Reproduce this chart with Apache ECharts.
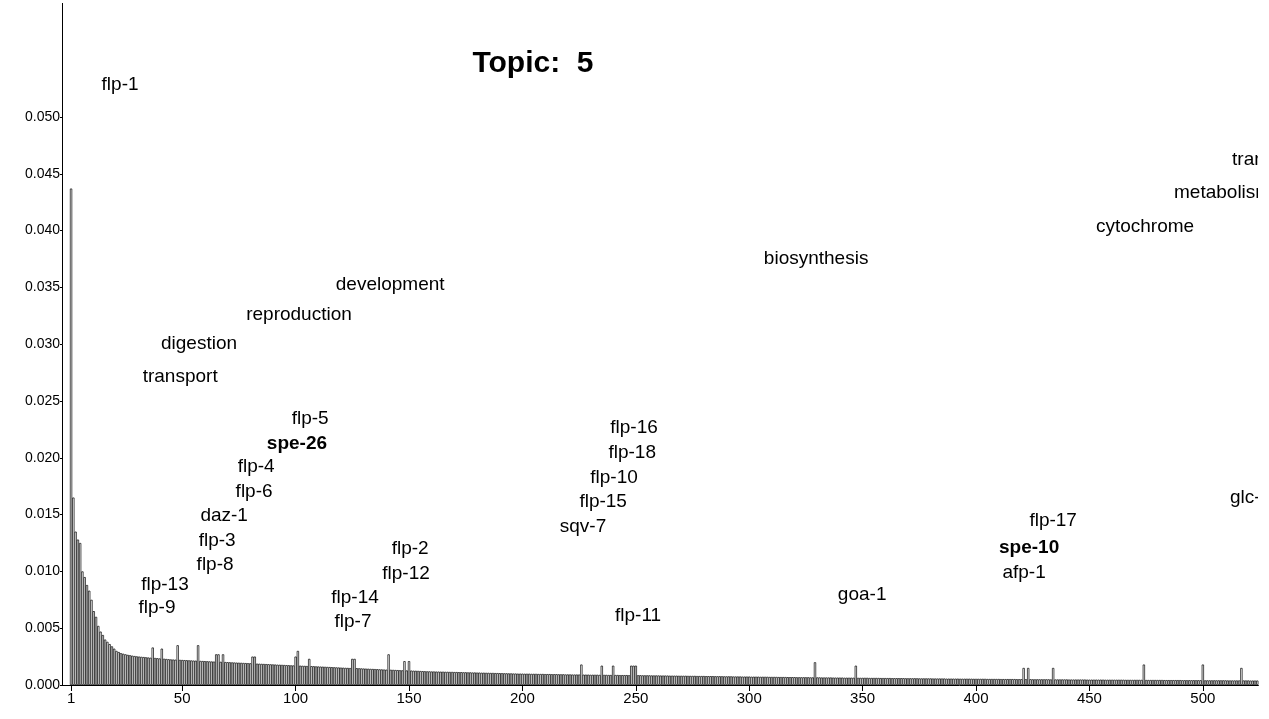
<!DOCTYPE html>
<html><head><meta charset="utf-8">
<script src="https://cdn.jsdelivr.net/npm/echarts@6/dist/echarts.min.js"></script>
<style>html,body{margin:0;padding:0;background:#fff}#c{width:1269px;height:719px}</style>
</head><body><div id="c"></div>
<script>
// bar values in units of 1e-5, ranks 1..524
const valuesE5 = [
4370,1650,1350,1280,1250,1000,950,880,830,750,
650,600,520,470,440,400,380,360,340,320,
300,290,280,275,270,265,262,258,255,252,
250,248,246,244,242,240,330,238,236,234,
320,231,229,227,225,224,223,350,221,220,
219,218,217,216,215,214,350,212,211,210,
209,208,207,206,270,270,204,270,202,201,
200,199,198,197,196,195,194,193,192,191,
250,250,188,187,186,185,184,183,182,181,
180,179,178,177,176,175,174,173,172,250,
300,170,169,168,167,230,166,165,164,163,
162,161,160,159,158,157,156,155,154,153,
152,151,150,149,230,230,148,147,146,145,
144,143,142,141,140,139,138,137,136,135,
270,134,133,132,131,130,129,210,128,210,
127,126,125,124,123,122,121,120,120,119,
119,118,118,117,117,116,116,115,115,114,
114,113,113,112,112,111,111,110,110,109,
109,108,108,107,107,106,106,105,105,104,
104,103,103,102,102,101,101,100,100,100,
99,99,99,98,98,98,97,97,97,96,
96,96,95,95,95,94,94,94,93,93,
93,92,92,92,92,180,91,91,91,90,
90,90,90,89,170,89,89,88,88,170,
88,88,87,87,87,87,86,170,170,170,
86,86,85,85,85,85,84,84,84,84,
83,83,83,83,82,82,82,82,81,81,
81,81,80,80,80,80,79,79,79,79,
78,78,78,78,77,77,77,77,76,76,
76,76,75,75,75,75,74,74,74,74,
73,73,73,73,72,72,72,72,71,71,
71,71,70,70,70,70,69,69,69,69,
68,68,68,68,68,68,67,67,200,67,
67,66,66,66,66,66,65,65,65,65,
65,64,64,64,64,64,170,63,63,63,
63,63,62,62,62,62,62,61,61,61,
61,61,60,60,60,60,60,60,59,59,
59,59,59,59,58,58,58,58,58,58,
57,57,57,57,57,57,56,56,56,56,
56,56,55,55,55,55,55,55,54,54,
54,54,54,54,53,53,53,53,53,53,
52,52,52,52,52,52,52,51,51,51,
150,51,150,51,50,50,50,50,50,50,
50,50,49,150,49,49,49,49,49,49,
48,48,48,48,48,48,48,48,47,47,
47,47,47,47,47,47,46,46,46,46,
46,46,46,46,46,45,45,45,45,45,
45,45,45,180,44,44,44,44,44,44,
44,44,43,43,43,43,43,43,43,43,
42,42,42,42,42,42,42,42,42,180,
41,41,41,41,41,41,41,41,41,41,
40,40,40,40,40,40,150,40,40,40,
39,39,39,39];
const xTicks = [1,50,100,150,200,250,300,350,400,450,500];
const yTicks = [0,0.005,0.01,0.015,0.02,0.025,0.03,0.035,0.04,0.045,0.05];
// word labels: [text, x rank, y value, bold, align]
const words = [
["flp-1",22.6,0.0528,0,"center"],["transcription",512.9,0.0462,0,"left"],
["metabolism",487.3,0.0433,0,"left"],["cytochrome",474.5,0.0403,0,"center"],
["biosynthesis",329.5,0.0375,0,"center"],["development",141.7,0.0352,0,"center"],
["reproduction",101.5,0.0326,0,"center"],["digestion",57.4,0.0300,0,"center"],
["transport",49.1,0.0271,0,"center"],["flp-5",106.4,0.0234,0,"center"],
["spe-26",100.6,0.0212,1,"center"],["flp-4",82.6,0.0192,0,"center"],
["flp-6",81.7,0.0170,0,"center"],["daz-1",68.5,0.0149,0,"center"],
["flp-3",65.4,0.0127,0,"center"],["flp-8",64.5,0.0106,0,"center"],
["flp-13",42.4,0.0088,0,"center"],["flp-9",38.9,0.0068,0,"center"],
["flp-2",150.5,0.0120,0,"center"],["flp-12",148.7,0.0098,0,"center"],
["flp-14",126.2,0.0077,0,"center"],["flp-7",125.3,0.0056,0,"center"],
["flp-16",249.2,0.0226,0,"center"],["flp-18",248.4,0.0204,0,"center"],
["flp-10",240.4,0.0182,0,"center"],["flp-15",235.6,0.0161,0,"center"],
["sqv-7",226.7,0.0139,0,"center"],["flp-11",251.0,0.0061,0,"center"],
["goa-1",349.8,0.0079,0,"center"],["flp-17",434.0,0.0145,0,"center"],
["spe-10",423.4,0.0121,1,"center"],["afp-1",421.2,0.0099,0,"center"],
["glc-1",512.0,0.0165,0,"left"]];

const barData = valuesE5.map((v,i)=>[i+1, v/100000]);
const chart = echarts.init(document.getElementById('c'));
const F = 'Liberation Sans, Arial, sans-serif';
chart.setOption({
  animation:false,
  title:{text:'Topic:  5',left:528,top:44,textAlign:'center',textStyle:{fontFamily:F,fontSize:30,fontWeight:'bold',color:'#000'}},
  grid:{left:62,right:10.6,top:3.4,bottom:34,containLabel:false},
  graphic:[{type:'rect',right:0,top:0,z:100,shape:{width:11,height:680},style:{fill:'#fff'}}],
  xAxis:{type:'value',min:-3,max:524.5,
    axisLine:{show:true,onZero:false,lineStyle:{color:'#000'}},
    axisTick:{show:true,customValues:xTicks,length:6,lineStyle:{color:'#000'}},
    axisLabel:{customValues:xTicks,color:'#000',fontFamily:F,fontSize:15,margin:6},
    splitLine:{show:false}},
  yAxis:{type:'value',min:0,max:0.06,
    axisLine:{show:true,onZero:false,lineStyle:{color:'#000'}},
    axisTick:{show:true,customValues:yTicks,length:2,lineStyle:{color:'#000'}},
    axisLabel:{customValues:yTicks,color:'#000',fontFamily:F,fontSize:14,margin:2,formatter:v=>v.toFixed(3)},
    splitLine:{show:false}},
  series:[
    {type:'bar',data:barData,barWidth:2.27,
     itemStyle:{color:'#fff',borderColor:'#000',borderWidth:0.7},silent:true},
    {type:'scatter',symbolSize:0,silent:true,itemStyle:{opacity:1},
     data:words.map(w=>({name:w[0],value:[w[1],w[2]],
       label:{show:true,position:'inside',formatter:w[0],align:w[4],color:'#000',opacity:1,
         textBorderWidth:0,fontFamily:F,fontSize:19,fontWeight:w[3]?'bold':'normal'}}))}
  ]
});
</script></body></html>
